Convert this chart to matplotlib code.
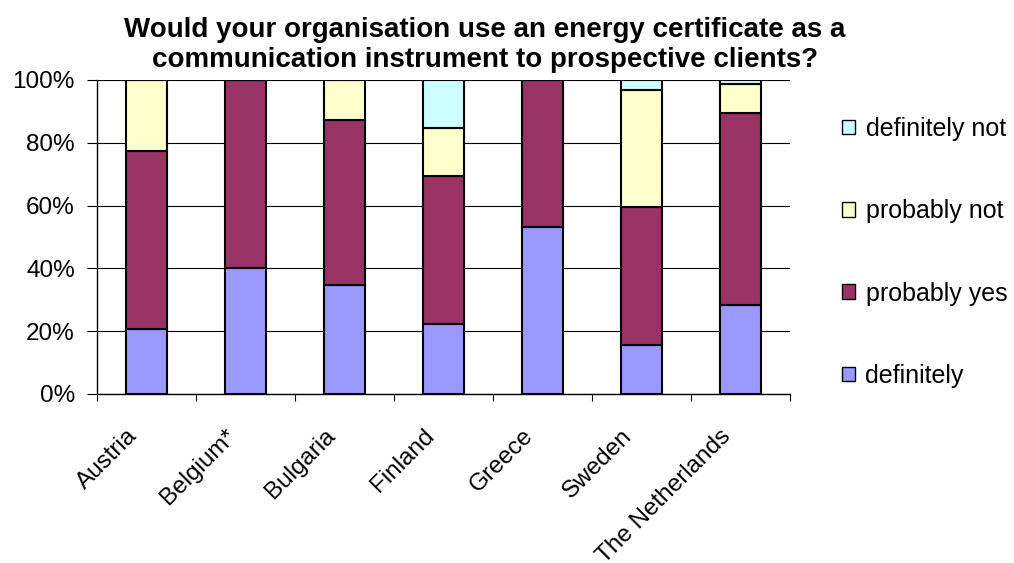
import numpy as np
import matplotlib
matplotlib.use("Agg")
import matplotlib.pyplot as plt
from matplotlib.patches import Patch
from matplotlib.ticker import FuncFormatter
from matplotlib.transforms import ScaledTranslation

plt.rcParams['font.family'] = ['Liberation Sans', 'DejaVu Sans']

countries = ["Austria", "Belgium*", "Bulgaria", "Finland", "Greece", "Sweden", "The Netherlands"]
answers = ["definitely", "probably yes", "probably not", "definitely not"]
colors = ["#9999FF", "#993366", "#FFFFCC", "#CCFFFF"]

# share of answers per country, in %
definitely = [20.8, 40.0, 34.8, 22.2, 53.1, 15.6, 28.4]
probably_yes = [56.5, 60.0, 52.5, 47.2, 46.9, 43.8, 61.0]
probably_not = [22.7, 0.0, 12.7, 15.3, 0.0, 37.5, 9.3]
definitely_not = [0.0, 0.0, 0.0, 15.3, 0.0, 3.1, 1.3]
series = [definitely, probably_yes, probably_not, definitely_not]

FS = 17.5

fig = plt.figure(figsize=(10.14, 5.63), dpi=100)
ax = fig.add_axes([97 / 1014, 1 - 394 / 563, (790 - 97) / 1014, (394 - 80) / 563])

x = np.arange(len(countries))
bottom = np.zeros(len(countries))
for vals, col in zip(series, colors):
    vals = np.array(vals)
    ax.bar(x, vals, 0.42, bottom=bottom, color=col, edgecolor="black", linewidth=1.5, zorder=3)
    bottom += vals

ax.set_xlim(-0.5, len(countries) - 0.5)
ax.set_ylim(0, 100)
ax.set_yticks(np.arange(0, 101, 20))
ax.yaxis.set_major_formatter(FuncFormatter(lambda v, p: f"{v:.0f}%"))
ax.yaxis.grid(True, color="black", linewidth=0.8, zorder=0)

# ticks between categories, labels at the bar centres
ax.set_xticks(np.arange(len(countries) + 1) - 0.5)
ax.set_xticklabels([])
ax.set_xticks(x, minor=True)
ax.set_xticklabels(countries, minor=True, rotation=45, ha="right", va="center",
                   rotation_mode="anchor", fontsize=FS)
ax.tick_params(axis="x", which="minor", length=0, pad=30)
ax.tick_params(axis="x", which="major", length=5, direction="out", color="black")
ax.tick_params(axis="y", length=7, direction="out", labelsize=FS, pad=9)

# nudge the rotated country names a little to the left
shift = ScaledTranslation(-0.13, 0.03, fig.dpi_scale_trans)
for lbl in ax.get_xticklabels(minor=True):
    lbl.set_transform(lbl.get_transform() + shift)

for s in ["top", "right"]:
    ax.spines[s].set_visible(False)
for s in ["left", "bottom"]:
    ax.spines[s].set_color("black")
    ax.spines[s].set_linewidth(1.0)

handles = [Patch(facecolor=c, edgecolor="black", label=a) for a, c in zip(answers, colors)]
fig.legend(handles[::-1], answers[::-1], loc="upper left",
           bbox_to_anchor=(842 / 1014, 1 - 117 / 563), frameon=False,
           borderpad=0, borderaxespad=0,
           fontsize=18, labelspacing=2.33, handlelength=0.52, handleheight=0.52,
           handletextpad=0.42)

fig.text(485 / 1014, 1 - 45 / 563,
         "Would your organisation use an energy certificate as a\n"
         "communication instrument to prospective clients?",
         ha="center", va="center", fontsize=20, fontweight="bold", linespacing=1.2)

fig.savefig("out.png", dpi=100)
